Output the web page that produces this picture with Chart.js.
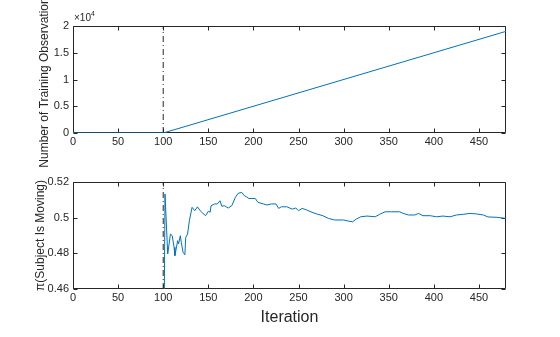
<!DOCTYPE html>
<html>
<head>
<meta charset="utf-8">
<script src="https://cdn.jsdelivr.net/npm/chart.js@4/dist/chart.umd.min.js"></script>
<style>
  html, body { margin: 0; padding: 0; background: #ffffff; }
  #wrap { position: relative; width: 560px; height: 337px; overflow: hidden; background:#fff; }
  canvas { position: absolute; left: 0; }
  #top { top: 0; }
  #bot { top: 160px; }
</style>
</head>
<body>
<div id="wrap">
  <canvas id="top" width="560" height="180"></canvas>
  <canvas id="bot" width="560" height="177"></canvas>
</div>
<script>
// ---- data ----
const xTickValues = [0, 50, 100, 150, 200, 250, 300, 350, 400, 450];
const obsIterations = [0, 100, 480];
const obsCounts = [0, 0, 19000];
const obsTickValues = [0, 5000, 10000, 15000, 20000];
const probTickValues = [0.46, 0.48, 0.50, 0.52];
const markerIteration = 100;

const probIterations = [101, 102, 105, 108, 110, 112, 113, 116, 117, 119, 120, 122, 124, 125, 127,
  129, 132, 135, 138, 141, 144, 147, 150, 152, 153, 157, 160, 163, 165, 168,
  172, 176, 180, 183, 187, 190, 192, 195, 202, 205, 211, 215, 220, 225, 228,
  231, 237, 243, 247, 250, 254, 259, 265, 270, 277, 283, 290, 300, 305, 310,
  314, 319, 326, 335, 340, 346, 353, 362, 366, 372, 379, 383, 388, 396, 403,
  410, 418, 425, 433, 440, 447, 455, 460, 470, 480];
const probValues = [0.44, 0.5133, 0.4796, 0.4908, 0.4899, 0.4834, 0.4787, 0.4871, 0.4852, 0.4899,
  0.4862, 0.4806, 0.4792, 0.4890, 0.4908, 0.4983, 0.5058, 0.5039, 0.5061, 0.5039,
  0.5024, 0.5011, 0.5036, 0.5030, 0.5067, 0.5077, 0.5077, 0.5095, 0.5064, 0.5067,
  0.5054, 0.5067, 0.5114, 0.5136, 0.5142, 0.5123, 0.5118, 0.5107, 0.5108, 0.5086,
  0.5077, 0.5071, 0.5077, 0.5077, 0.5052, 0.5061, 0.5061, 0.5048, 0.5054, 0.5039,
  0.5052, 0.5043, 0.5030, 0.5021, 0.5011, 0.4996, 0.4987, 0.4987, 0.4981, 0.4977,
  0.4992, 0.5005, 0.5009, 0.5005, 0.5019, 0.5033, 0.5033, 0.5033, 0.5024, 0.5015,
  0.5015, 0.5024, 0.5011, 0.5011, 0.5005, 0.5009, 0.5005, 0.5015, 0.5019, 0.5024,
  0.5021, 0.5015, 0.5004, 0.5002, 0.4996];

// ---- styling ----
const FONT = "'Liberation Sans', Arial, Helvetica, sans-serif";
const AX = '#262626';
const BLUE = '#0072BD';

const boxTicks = {
  id: 'boxTicks',
  beforeDatasetsDraw(chart) {
    const { ctx, chartArea: a, scales: { x, y } } = chart;
    ctx.save();
    ctx.strokeStyle = AX;
    ctx.lineWidth = 1;
    const L = Math.round(a.left) + 0.5, R = Math.round(a.right) - 0.5;
    const T = Math.round(a.top) + 0.5, B = Math.round(a.bottom) - 0.5;
    ctx.beginPath();
    ctx.rect(L, T, R - L, B - T);
    const tl = 4;
    x.ticks.forEach(t => {
      const p = Math.round(x.getPixelForValue(t.value)) + 0.5;
      ctx.moveTo(p, B); ctx.lineTo(p, B - tl);
      ctx.moveTo(p, T); ctx.lineTo(p, T + tl);
    });
    y.ticks.forEach(t => {
      const p = Math.round(y.getPixelForValue(t.value)) + 0.5;
      ctx.moveTo(L, p); ctx.lineTo(L + tl, p);
      ctx.moveTo(R, p); ctx.lineTo(R - tl, p);
    });
    ctx.stroke();
    ctx.restore();
  }
};

const exponentLabel = {
  id: 'exponentLabel',
  afterDraw(chart) {
    const { ctx, chartArea: a } = chart;
    ctx.save();
    ctx.fillStyle = AX;
    ctx.textBaseline = 'alphabetic';
    ctx.textAlign = 'left';
    ctx.font = '10px ' + FONT;
    const base = '\u00D710';
    ctx.fillText(base, a.left + 1, a.top - 5);
    const w = ctx.measureText(base).width;
    ctx.font = '7px ' + FONT;
    ctx.fillText('4', a.left + 1 + w, a.top - 10);
    ctx.restore();
  }
};

function xScale(height, withTitle) {
  const s = {
    type: 'linear', min: 0, max: 480,
    grid: { display: false, drawTicks: false }, border: { display: false },
    afterBuildTicks(sc) { sc.ticks = xTickValues.map(v => ({ value: v })); },
    ticks: { font: { family: FONT, size: 11 }, color: AX, padding: 2, maxRotation: 0, autoSkip: false },
    afterFit(sc) { sc.height = height; }
  };
  if (withTitle) {
    s.title = { display: true, text: 'Iteration', color: AX,
      font: { family: FONT, size: 16 }, padding: { top: 0, bottom: 2 } };
  }
  return s;
}

function yScale(min, max, tickVals, fmt, title, titlePad) {
  return {
    type: 'linear', min: min, max: max,
    grid: { display: false, drawTicks: false }, border: { display: false },
    afterBuildTicks(sc) { sc.ticks = tickVals.map(v => ({ value: v })); },
    ticks: { font: { family: FONT, size: 11 }, color: AX, padding: 4, callback: fmt },
    title: { display: true, text: title, color: AX, font: { family: FONT, size: 12 },
      padding: { top: titlePad, bottom: 0 } },
    afterFit(sc) { sc.width = 73; }
  };
}

const common = {
  responsive: false, animation: false, devicePixelRatio: 1,
  plugins: { legend: { display: false }, tooltip: { enabled: false } },
  elements: { point: { radius: 0 }, line: { tension: 0 } }
};

new Chart(document.getElementById('top'), {
  type: 'line',
  data: {
    datasets: [
      { data: obsIterations.map((v, i) => ({ x: v, y: obsCounts[i] })),
        borderColor: BLUE, borderWidth: 1, fill: false },
      { data: [{ x: markerIteration, y: 0 }, { x: markerIteration, y: 20000 }],
        borderColor: AX, borderWidth: 1, borderDash: [6, 3, 1, 3], fill: false }
    ]
  },
  options: Object.assign({}, common, {
    layout: { padding: { left: 0, right: 54, top: 26, bottom: 27 } },
    scales: {
      x: xScale(20, false),
      y: yScale(0, 20000, obsTickValues, v => String(v / 10000), 'Number of Training Observations', 37)
    }
  }),
  plugins: [boxTicks, exponentLabel]
});

new Chart(document.getElementById('bot'), {
  type: 'line',
  data: {
    datasets: [
      { data: probIterations.map((v, i) => ({ x: v, y: probValues[i] })),
        borderColor: BLUE, borderWidth: 1, fill: false },
      { data: [{ x: markerIteration, y: 0.46 }, { x: markerIteration, y: 0.52 }],
        borderColor: AX, borderWidth: 1, borderDash: [6, 3, 1, 3], fill: false }
    ]
  },
  options: Object.assign({}, common, {
    layout: { padding: { left: 0, right: 54, top: 22, bottom: 8 } },
    scales: {
      x: xScale(40, true),
      y: yScale(0.46, 0.52, probTickValues, v => String(Math.round(v * 100) / 100), '\u03C0(Subject Is Moving)', 33)
    }
  }),
  plugins: [boxTicks]
});
</script>
</body>
</html>
